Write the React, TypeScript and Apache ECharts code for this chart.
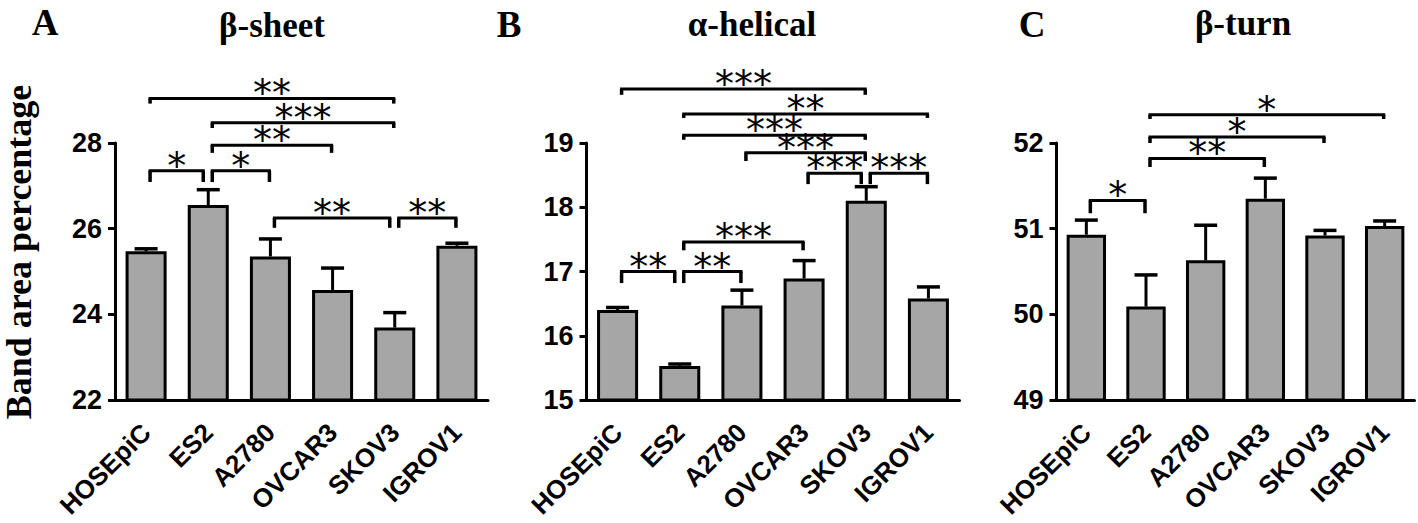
import React, { useEffect, useRef } from "react";
import * as echarts from "echarts";

const CATEGORIES = ["HOSEpiC", "ES2", "A2780", "OVCAR3", "SKOV3", "IGROV1"];

// Panel A: beta-sheet
const SHEET_MEAN = [25.47, 26.55, 25.35, 24.57, 23.69, 25.6];
const SHEET_ERR = [0.06, 0.36, 0.41, 0.51, 0.35, 0.06];
const SHEET_AXIS = [22, 28, 2];
// [from, to, lineValue, footValue, label]
const SHEET_BRACKETS: [number, number, number, number, string][] = [
  [0, 4, 29.04, 28.92, "**"],
  [1, 4, 28.47, 28.35, "***"],
  [1, 3, 27.95, 27.77, "**"],
  [0, 1, 27.35, 27.09, "*"],
  [1, 2, 27.35, 27.09, "*"],
  [2, 4, 26.25, 26.02, "**"],
  [4, 5, 26.25, 26.02, "**"],
];

// Panel B: alpha-helical
const HELIX_MEAN = [16.4, 15.53, 16.47, 16.89, 18.1, 16.58];
const HELIX_ERR = [0.04, 0.03, 0.24, 0.28, 0.22, 0.18];
const HELIX_AXIS = [15, 19, 1];
const HELIX_BRACKETS: [number, number, number, number, string][] = [
  [0, 4, 19.84, 19.75, "***"],
  [1, 5, 19.45, 19.39, "**"],
  [1, 4, 19.12, 19.05, "***"],
  [2, 4, 18.85, 18.72, "***"],
  [3, 4, 18.53, 18.36, "***"],
  [4, 5, 18.53, 18.36, "***"],
  [1, 3, 17.46, 17.33, "***"],
  [0, 1, 17.0, 16.82, "**"],
  [1, 2, 17.0, 16.82, "**"],
];

// Panel C: beta-turn
const TURN_MEAN = [50.93, 50.09, 50.63, 51.35, 50.92, 51.03];
const TURN_ERR = [0.17, 0.37, 0.41, 0.24, 0.06, 0.06];
const TURN_AXIS = [49, 52, 1];
const TURN_BRACKETS: [number, number, number, number, string][] = [
  [1, 5, 52.33, 52.28, "*"],
  [1, 4, 52.07, 52.0, "*"],
  [1, 3, 51.82, 51.72, "**"],
  [0, 1, 51.33, 51.18, "*"],
];

const PANEL_TITLES = ["β-sheet", "α-helical", "β-turn"];
const PANEL_LETTERS = ["A", "B", "C"];
const Y_NAME = "Band area percentage";

const SANS = "Liberation Sans";
const SERIF = "Liberation Serif";
const BAR_FILL = "#a6a6a6";

const GRIDS = [
  { left: 115, top: 143, width: 373, height: 257 },
  { left: 586.5, top: 143, width: 373, height: 257 },
  { left: 1056.5, top: 143, width: 358, height: 257 },
];

function errorSeries(gi: number, mean: number[], err: number[]) {
  return {
    type: "custom",
    xAxisIndex: gi,
    yAxisIndex: gi,
    clip: false,
    z: 4,
    data: mean.map((m, i) => [i, m]),
    renderItem: (params: any, api: any) => {
      const i = params.dataIndex;
      const p0 = api.coord([i, mean[i]]);
      const p1 = api.coord([i, mean[i] + err[i]]);
      const cap = 11.5;
      return {
        type: "group",
        children: [
          {
            type: "line",
            shape: { x1: p0[0], y1: p0[1], x2: p1[0], y2: p1[1] },
            style: { stroke: "#000", lineWidth: 3 },
          },
          {
            type: "line",
            shape: { x1: p1[0] - cap, y1: p1[1], x2: p1[0] + cap, y2: p1[1] },
            style: { stroke: "#000", lineWidth: 3.5 },
          },
        ],
      };
    },
  };
}

function bracketSeries(gi: number, list: [number, number, number, number, string][]) {
  return {
    type: "custom",
    xAxisIndex: gi,
    yAxisIndex: gi,
    clip: false,
    z: 5,
    data: list.map((b) => [b[0], b[2]]),
    renderItem: (params: any, api: any) => {
      const b = list[params.dataIndex];
      const shareRight = list.some((o) => o !== b && o[2] === b[2] && o[0] === b[1]);
      const pL = api.coord([b[0], b[2]]);
      const pR = api.coord([b[1], b[2]]);
      const fy = api.coord([b[0], b[3]])[1];
      const xL = pL[0] + 4;
      const xR = pR[0] + (shareRight ? -5 : -1);
      const y = pL[1];
      return {
        type: "group",
        children: [
          {
            type: "line",
            shape: { x1: xL - 1.5, y1: y, x2: xR + 1.5, y2: y },
            style: { stroke: "#000", lineWidth: 3 },
          },
          {
            type: "line",
            shape: { x1: xL, y1: y, x2: xL, y2: fy },
            style: { stroke: "#000", lineWidth: 3.5 },
          },
          {
            type: "line",
            shape: { x1: xR, y1: y, x2: xR, y2: fy },
            style: { stroke: "#000", lineWidth: 3.5 },
          },
          {
            type: "text",
            x: (xL + xR) / 2,
            y: y - 5,
            style: {
              text: b[4],
              fill: "#000",
              font: `normal 38px "DejaVu Sans"`,
              align: "center",
              verticalAlign: "middle",
              textAlign: "center",
              textVerticalAlign: "middle",
            },
          },
        ],
      };
    },
  };
}

export default function App() {
  const ref = useRef<HTMLDivElement>(null);

  useEffect(() => {
    if (!ref.current) return;
    const chart = echarts.init(ref.current, undefined, { renderer: "svg" });
    const axes = [SHEET_AXIS, HELIX_AXIS, TURN_AXIS];
    const means = [SHEET_MEAN, HELIX_MEAN, TURN_MEAN];
    const errs = [SHEET_ERR, HELIX_ERR, TURN_ERR];
    const brackets = [SHEET_BRACKETS, HELIX_BRACKETS, TURN_BRACKETS];

    const series: any[] = [];
    for (let g = 0; g < 3; g++) {
      series.push({
        type: "bar",
        xAxisIndex: g,
        yAxisIndex: g,
        barWidth: "66%",
        data: means[g],
        itemStyle: { color: BAR_FILL, borderColor: "#000", borderWidth: 3 },
        z: 2,
      });
      series.push(errorSeries(g, means[g], errs[g]));
      series.push(bracketSeries(g, brackets[g]));
    }

    const titleX = [272, 752, 1243];
    const titleY = [25, 24, 23];
    const letterX = [45, 509, 1032];
    const letterY = [22, 24, 24];
    const graphics: any[] = [];
    for (let g = 0; g < 3; g++) {
      graphics.push({
        type: "text",
        x: titleX[g],
        y: titleY[g],
        style: {
          text: PANEL_TITLES[g],
          fill: "#000",
          font: `bold 35px "${SERIF}"`,
          align: "center",
          verticalAlign: "middle",
          textAlign: "center",
          textVerticalAlign: "middle",
        },
      });
      graphics.push({
        type: "text",
        x: letterX[g],
        y: letterY[g],
        style: {
          text: PANEL_LETTERS[g],
          fill: "#000",
          font: `bold 37px "${SERIF}"`,
          align: "center",
          verticalAlign: "middle",
          textAlign: "center",
          textVerticalAlign: "middle",
        },
      });
    }
    graphics.push({
      type: "text",
      x: 19,
      y: 252,
      rotation: Math.PI / 2,
      style: {
        text: Y_NAME,
        fill: "#000",
        font: `bold 36px "${SERIF}"`,
        align: "center",
        verticalAlign: "middle",
        textAlign: "center",
        textVerticalAlign: "middle",
      },
    });

    chart.setOption({
      animation: false,
      backgroundColor: "#fff",
      grid: GRIDS.map((gr) => ({ ...gr, containLabel: false })),
      xAxis: GRIDS.map((_, g) => ({
        type: "category",
        gridIndex: g,
        data: CATEGORIES,
        axisLine: { onZero: false, lineStyle: { color: "#000", width: 3 } },
        axisTick: { alignWithLabel: true, length: 7, lineStyle: { color: "#000", width: 3 } },
        axisLabel: {
          interval: 0,
          rotate: 45,
          margin: 28,
          color: "#000",
          fontFamily: SANS,
          fontWeight: "bold",
          fontSize: 26,
        },
        splitLine: { show: false },
      })),
      yAxis: GRIDS.map((_, g) => ({
        type: "value",
        gridIndex: g,
        min: axes[g][0],
        max: axes[g][1],
        interval: axes[g][2],
        axisLine: { show: true, lineStyle: { color: "#000", width: 3 } },
        axisTick: { show: true, length: 7, lineStyle: { color: "#000", width: 3 } },
        axisLabel: {
          margin: 13,
          color: "#000",
          fontFamily: SANS,
          fontWeight: "bold",
          fontSize: 27,
        },
        splitLine: { show: false },
      })),
      series,
      graphic: graphics,
    });
    return () => chart.dispose();
  }, []);

  return (
    <div
      ref={ref}
      style={{ position: "fixed", left: 0, top: 0, width: 1418, height: 523, background: "#fff" }}
    />
  );
}
